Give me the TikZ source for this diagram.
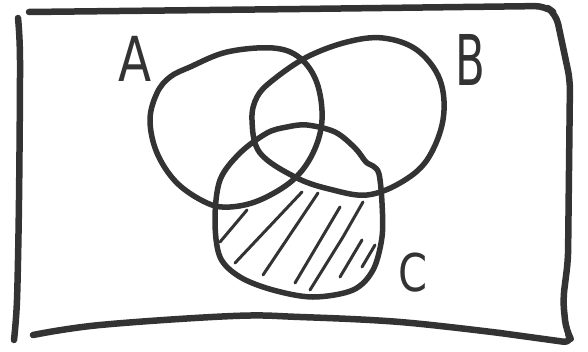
\documentclass[tikz,border=0pt]{standalone}
\usepackage{fontspec}
\setmainfont{DejaVu Sans}
\definecolor{ink}{HTML}{333333}
\begin{document}
\begin{tikzpicture}[x=1pt,y=-1pt,
  framestroke/.style={draw=ink,line width=6.5pt,line cap=round,line join=round},
  setstroke/.style={draw=ink,line width=5.5pt,line cap=round,line join=round},
  hatchstroke/.style={draw=ink,line width=3pt,line cap=round},
  setlabel/.style={text=ink,inner sep=0pt,font=\fontsize{62}{62}\selectfont}]
\useasboundingbox (0,0) rectangle (588,351);
% frame
\draw[framestroke] plot[smooth,tension=0.5] coordinates {(18,18) (20,60) (19,200) (17,300) (14,340)};
\draw[framestroke,rounded corners=10pt] (29,12) -- (300,9) -- (545,6) -- (556,14) -- (570,80) -- (568,260) -- (563,300) -- (566,330) -- (573,343) -- (500,333);
\draw[framestroke] plot[smooth,tension=0.6] coordinates {(500,333) (400,322) (300,317) (233,316) (100,325) (33,335)};
% set A
\draw[setstroke] plot[smooth cycle,tension=0.6] coordinates {(190,67) (227,52) (273,48) (300,58) (317,83) (322,120) (313,153) (293,180) (260,200) (230,207) (207,203) (177,183) (157,153) (150,120) (157,93) (170,77)};
% set B
\draw[setstroke] plot[smooth cycle,tension=0.6] coordinates {(252,120) (260,153) (297,178) (333,190) (367,195) (400,183) (427,160) (443,120) (440,80) (417,50) (383,38) (347,42) (307,57) (273,80) (257,97)};
% set C
\draw[setstroke] plot[smooth cycle,tension=0.55] coordinates {(307,125) (335,132) (355,148) (366,162) (373,166) (379,174) (382,203) (382,237) (373,270) (353,290) (313,297) (273,290) (240,277) (220,257) (215,220) (220,180) (240,153) (267,133) (287,127)};
% hatching
\draw[hatchstroke] (220,242) -- (247,210);
\draw[hatchstroke] (235,263) -- (302,192);
\draw[hatchstroke] (263,275) -- (318,193);
\draw[hatchstroke] (295,283) -- (340,207);
\draw[hatchstroke] (310,290) -- (343,237) -- (363,202);
\draw[hatchstroke] (340,277) -- (362,240);
\draw[hatchstroke] (362,267) -- (375,245);
% labels
\node[setlabel,xscale=0.78] (la) at (135,59) {A};
\node[setlabel,xscale=0.62,font=\fontsize{70}{70}\selectfont] (lb) at (470,60) {B};
\node[setlabel,xscale=0.8,font=\fontsize{52}{52}\selectfont] (lc) at (413,273) {C};
\end{tikzpicture}
\end{document}
